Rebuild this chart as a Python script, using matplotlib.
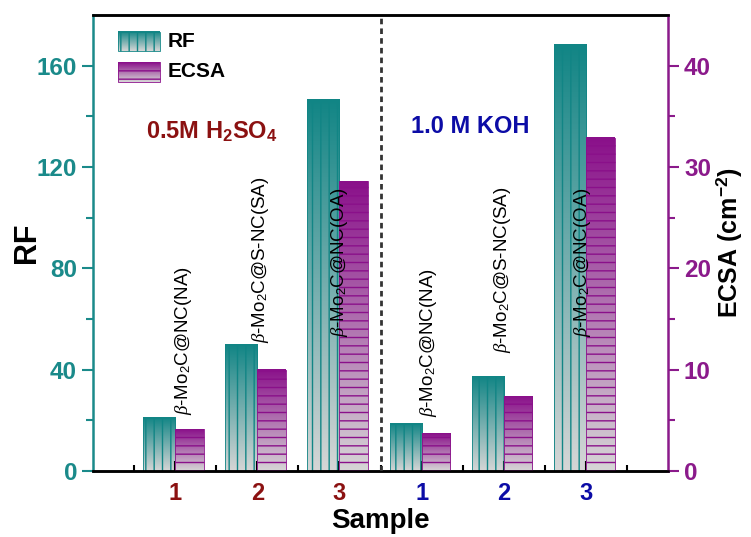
import numpy as np
import matplotlib
matplotlib.use("Agg")
import matplotlib.pyplot as plt
from matplotlib.colors import LinearSegmentedColormap
from matplotlib.patches import Rectangle

# DATA
samples = ["1", "2", "3", "1", "2", "3"]
rf_values = [21.0, 50.0, 146.5, 18.7, 37.5, 168.5]
ecsa_values = [4.1, 10.0, 28.6, 3.75, 7.4, 32.9]
sample_names = [r"$\beta$-Mo$_2$C@NC(NA)", r"$\beta$-Mo$_2$C@S-NC(SA)", r"$\beta$-Mo$_2$C@NC(OA)",
                r"$\beta$-Mo$_2$C@NC(NA)", r"$\beta$-Mo$_2$C@S-NC(SA)", r"$\beta$-Mo$_2$C@NC(OA)"]
electrolytes = [r"0.5M H$_\mathbf{2}$SO$_\mathbf{4}$", "1.0 M KOH"]

# STYLE
plt.rcParams["font.family"] = ["Liberation Sans", "DejaVu Sans"]
plt.rcParams["mathtext.fontset"] = "custom"
plt.rcParams["mathtext.rm"] = "Liberation Sans"
plt.rcParams["mathtext.it"] = "Liberation Serif:italic"
plt.rcParams["mathtext.bf"] = "Liberation Sans:bold"
plt.rcParams["hatch.linewidth"] = 1.0

teal = "#118585"
teal_txt = "#1a8a8a"
purple = "#8a108a"
purple_txt = "#8b1a8b"
dark_red = "#8b1111"
dark_blue = "#0c0ca6"
grey = "#d6d6d6"


def gradient_bar(ax, x0, x1, h, color, hatch):
    cmap = LinearSegmentedColormap.from_list("g", [grey, color])
    grad = np.linspace(0, 1, 256).reshape(-1, 1)
    ax.imshow(grad, cmap=cmap, extent=[x0, x1, 0, h], origin="lower",
              aspect="auto", zorder=1, interpolation="bilinear")
    ax.add_patch(Rectangle((x0, 0), x1 - x0, h, facecolor="none", edgecolor=color,
                           hatch=hatch, lw=0.6, zorder=2))


fig = plt.figure(figsize=(7.51, 5.37), dpi=100)
ax = fig.add_axes([93 / 751, 66 / 537, 575 / 751, 456 / 537])
ax2 = ax.twinx()

x = np.arange(1, len(samples) + 1)
w_rf = 0.39
w_ecsa = 0.35
for xi, rf, ec in zip(x, rf_values, ecsa_values):
    gradient_bar(ax, xi - w_rf, xi, rf, teal, "||")
    gradient_bar(ax2, xi, xi + w_ecsa, ec, purple, "--")

# sample names above the bars
label_dx = [0.10, 0.04, 0.0, 0.08, -0.02, -0.04]
label_y = [22.2, 50.7, 53.0, 21.4, 46.7, 53.0]
for xi, name, dx, ly in zip(x, sample_names, label_dx, label_y):
    ax2.text(xi + dx, ly, name, rotation=90, ha="center", va="bottom",
             fontsize=13.5, transform=ax.transData, zorder=5)

# electrolyte annotations
ax2.text(1.45, 134, electrolytes[0], color=dark_red, fontsize=17, fontweight="bold",
         ha="center", va="center", transform=ax.transData)
ax2.text(4.59, 136, electrolytes[1], color=dark_blue, fontsize=17, fontweight="bold",
         ha="center", va="center", transform=ax.transData)

ax2.axvline(3.5, color="#333333", lw=2, ls=(0, (2, 1.5)), zorder=4)

# axes styling
ax.set_xticks(x)
ax.set_xticklabels(samples, fontsize=17, fontweight="bold")
for lbl, c in zip(ax.get_xticklabels(), [dark_red] * 3 + [dark_blue] * 3):
    lbl.set_color(c)
ax.set_xticks(np.arange(0.5, 7, 1), minor=True)
ax.tick_params(axis="x", which="both", direction="in", width=1.5, pad=8)
ax.tick_params(axis="x", which="major", length=7)
ax.tick_params(axis="x", which="minor", length=4)
ax.set_xlabel("Sample", fontsize=20, fontweight="bold", labelpad=2)

ax.set_yticks([0, 40, 80, 120, 160])
ax.set_yticks(np.arange(20, 180, 40), minor=True)
ax.tick_params(axis="y", which="both", colors=teal_txt, labelsize=17.5, width=1.5, direction="out")
ax.tick_params(axis="y", which="major", length=8)
ax.tick_params(axis="y", which="minor", length=5)
for lbl in ax.get_yticklabels():
    lbl.set_fontweight("bold")
ax.set_ylabel("RF", fontsize=22, fontweight="bold", labelpad=-4)

ax2.set_yticks([0, 10, 20, 30, 40])
ax2.set_yticks(np.arange(5, 45, 10), minor=True)
ax2.tick_params(axis="y", which="both", colors=purple_txt, labelsize=17.5, width=1.5, direction="out")
ax2.tick_params(axis="y", which="major", length=8)
ax2.tick_params(axis="y", which="minor", length=5)
for lbl in ax2.get_yticklabels():
    lbl.set_fontweight("bold")
ax2.set_ylabel(r"ECSA (cm$^{\mathbf{-2}}$)", fontsize=18, fontweight="bold", labelpad=2)

for sp in ["top", "bottom"]:
    ax.spines[sp].set_linewidth(1.8)
    ax2.spines[sp].set_linewidth(1.8)
ax.spines["left"].set_color(teal_txt)
ax.spines["left"].set_linewidth(1.8)
ax.spines["right"].set_visible(False)
ax2.spines["left"].set_visible(False)
ax2.spines["right"].set_color(purple_txt)
ax2.spines["right"].set_linewidth(1.8)

# legend drawn with gradient swatches
for i, (lab, col, hatch) in enumerate([("RF", teal, "||"), ("ECSA", purple, "--")]):
    y0 = 0.92 - i * 0.066
    cmap = LinearSegmentedColormap.from_list("g", [grey, col])
    grad = np.linspace(0, 1, 64).reshape(-1, 1)
    ax2.imshow(grad, cmap=cmap, extent=[0.044, 0.117, y0, y0 + 0.043], origin="lower",
               aspect="auto", transform=ax.transAxes, zorder=3)
    ax2.add_patch(Rectangle((0.044, y0), 0.073, 0.043, facecolor="none", edgecolor=col,
                            hatch=hatch, lw=0.6, transform=ax.transAxes, zorder=3))
    ax2.text(0.13, y0 + 0.021, lab, fontsize=15, fontweight="bold", va="center",
             transform=ax.transAxes)

ax.set_xlim(0, 7)
ax.set_ylim(0, 180)
ax2.set_ylim(0, 45)

fig.savefig("out.png", dpi=100)
